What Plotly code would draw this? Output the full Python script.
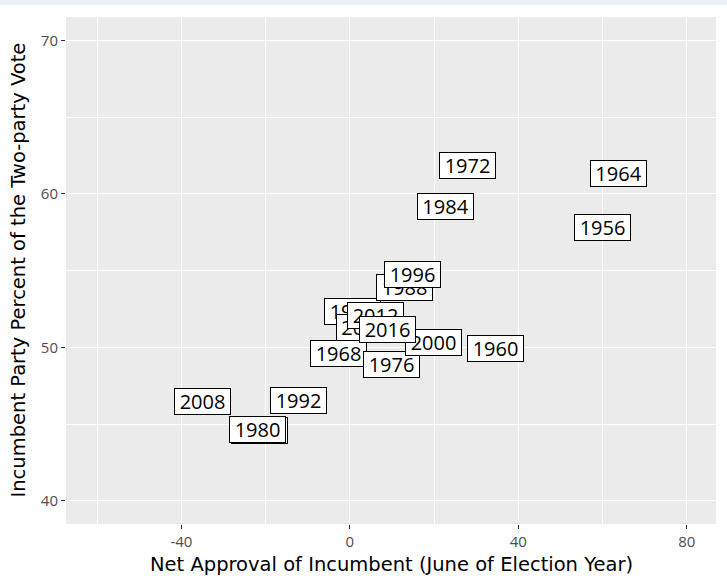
import plotly.graph_objects as go

years = ["1948", "1952", "1956", "1960", "1964", "1968", "1972", "1976", "1980",
         "1984", "1988", "1992", "1996", "2000", "2004", "2008", "2012", "2016"]
net_approval = [0.7, -21.4, 59.9, 34.7, 63.9, -2.8, 27.9, 9.8, -21.9,
                22.8, 13.0, -12.2, 14.9, 19.9, 3.4, -35.1, 6.0, 8.9]
incumbent_vote = [52.34, 44.56, 57.78, 49.94, 61.30, 49.62, 61.82, 48.90, 44.68,
                  59.21, 53.90, 46.56, 54.74, 50.32, 51.29, 46.49, 52.11, 51.16]

x_ticks = [-40, 0, 40, 80]
y_ticks = [40, 50, 60, 70]
x_title = "Net Approval of Incumbent (June of Election Year)"
y_title = "Incumbent Party Percent of the Two-party Vote"

FONT = "Open Sans, Noto Sans, sans-serif"
TITLE_FONT = "DejaVu Sans, Open Sans, sans-serif"
W, H = 727, 584
ml, mr, mt, mb = 66, 11, 17, 60
pw, ph = W - ml - mr, H - mt - mb

fig = go.Figure()
fig.add_trace(go.Scatter(x=net_approval, y=incumbent_vote, mode="markers",
                         marker=dict(size=1, opacity=0), hoverinfo="skip",
                         showlegend=False))

for yr, xv, yv in zip(years, net_approval, incumbent_vote):
    fig.add_annotation(x=xv, y=yv, xref="x", yref="y", text=yr, showarrow=False,
                       xanchor="center", yanchor="middle",
                       font=dict(family=FONT, size=20, color="black"),
                       bgcolor="white", bordercolor="black", borderwidth=1,
                       borderpad=0, width=55, height=25)

# axis titles
fig.add_annotation(text=x_title, xref="paper", yref="paper", x=0.5,
                   y=-(564 - mt - ph) / ph, xanchor="center", yanchor="middle",
                   showarrow=False, font=dict(family=TITLE_FONT, size=19.5, color="black"))
fig.add_annotation(text=y_title, xref="paper", yref="paper", x=-(ml - 18) / pw,
                   y=0.5, xanchor="center", yanchor="middle", textangle=-90,
                   showarrow=False, font=dict(family=TITLE_FONT, size=19.5, color="black"))

# top light strip of the page
fig.add_shape(type="rect", xref="paper", yref="paper",
              x0=-ml / pw, x1=1 + mr / pw, y0=1 + (mt - 5) / ph, y1=1 + mt / ph,
              fillcolor="#EDF0F2", line=dict(width=0), layer="below")

fig.update_layout(
    width=W, height=H,
    margin=dict(l=ml, r=mr, t=mt, b=mb, pad=0, autoexpand=False),
    paper_bgcolor="white", plot_bgcolor="#EBEBEB",
    font=dict(family=FONT),
    showlegend=False,
    xaxis=dict(range=[-67.4, 86.95], tickvals=x_ticks, ticktext=[str(v) for v in x_ticks],
               showgrid=True, gridcolor="white", gridwidth=1.2, zeroline=False,
               ticks="outside", ticklen=4, tickwidth=1.1, tickcolor="#333333",
               tickfont=dict(family=FONT, size=15, color="#4D4D4D"), automargin=False,
               minor=dict(tickvals=[-60, -20, 20, 60], showgrid=True,
                          gridcolor="white", gridwidth=0.6, ticks=""),
               showline=False),
    yaxis=dict(range=[38.5, 71.52], tickvals=y_ticks, ticktext=[str(v) for v in y_ticks],
               showgrid=True, gridcolor="white", gridwidth=1.2, zeroline=False,
               ticks="outside", ticklen=4, tickwidth=1.1, tickcolor="#333333",
               tickfont=dict(family=FONT, size=15, color="#4D4D4D"), automargin=False,
               minor=dict(tickvals=[45, 55, 65], showgrid=True,
                          gridcolor="white", gridwidth=0.6, ticks=""),
               showline=False),
)

fig.write_html("out.html", config={"displayModeBar": False},
               post_script="document.body.style.margin='0';document.body.style.overflow='hidden';")
